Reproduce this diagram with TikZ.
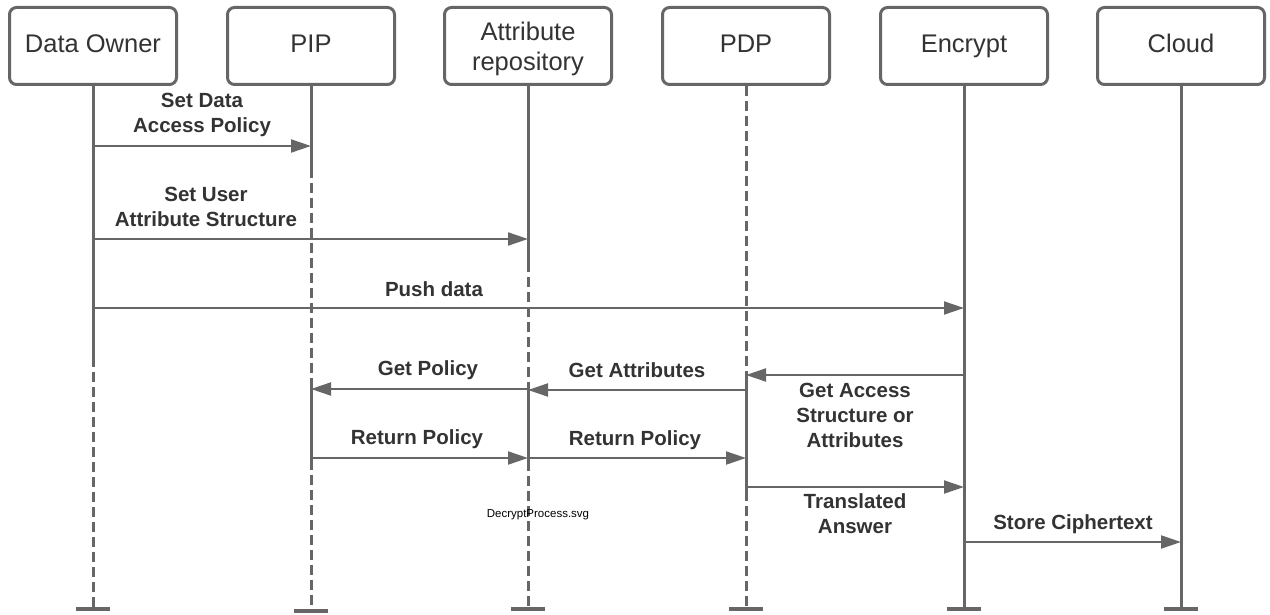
\documentclass[tikz,border=0pt]{standalone}
\usepackage{fontspec}
\setmainfont{Liberation Sans}
\usetikzlibrary{arrows.meta}
\definecolor{linegray}{HTML}{666666}
\definecolor{textgray}{HTML}{333333}

\begin{document}
\begin{tikzpicture}[x=1pt,y=-1pt,
  actor/.style={draw=linegray,line width=3pt,rounded corners=7pt,
    minimum width=167pt,minimum height=77pt,inner sep=0pt,fill=white,
    text=textgray,font=\fontsize{25.5}{30}\selectfont,align=center},
  oneline/.style={text height=18pt,text depth=5pt},
  life/.style={draw=linegray,line width=3pt},
  lifedash/.style={life,dash pattern=on 10pt off 5pt},
  msg/.style={draw=linegray,line width=2pt,-{Triangle[length=20pt,width=13pt]}},
  lbl/.style={text=textgray,font=\bfseries\fontsize{20.5}{25}\selectfont,align=center,inner sep=0pt},
  endbar/.style={draw=linegray,line width=4pt}
]
\useasboundingbox (0,0) rectangle (1270,615);

% participants
\node[actor,oneline] (owner) at (93,46) {Data Owner};
\node[actor,oneline] (pip)   at (311,46) {PIP};
\node[actor,text depth=-2pt] (repo) at (528,46) {Attribute\\repository};
\node[actor,oneline] (pdp)   at (746,46) {PDP};
\node[actor,oneline] (enc)   at (964,46) {Encrypt};
\node[actor,oneline] (cloud) at (1181,46) {Cloud};

% lifeline end points
\coordinate (owner-end) at (93,609);
\coordinate (pip-end)   at (311,611);
\coordinate (repo-end)  at (528,609);
\coordinate (pdp-end)   at (746,609);
\coordinate (enc-end)   at (964,609);
\coordinate (cloud-end) at (1181,609);

% Data Owner lifeline
\coordinate (owner-a) at (93,357);
\draw[life] (owner.south) -- (owner-a);
\draw[lifedash] (owner-a) -- (owner-end);

% PIP lifeline with activation
\coordinate (pip-a) at (311,168);
\coordinate (pip-b) at (311,388);
\coordinate (pip-c) at (311,460);
\draw[life] (pip.south) -- (pip-a);
\draw[lifedash] (pip-a) -- (pip-b);
\draw[life] (pip-b) -- (pip-c);
\draw[lifedash] (pip-c) -- (pip-end);

% Attribute repository lifeline with activation
\coordinate (repo-a) at (528,262);
\coordinate (repo-b) at (528,388);
\coordinate (repo-c) at (528,461);
\draw[life] (repo.south) -- (repo-a);
\draw[lifedash] (repo-a) -- (repo-b);
\draw[life] (repo-b) -- (repo-c);
\draw[lifedash] (repo-c) -- (repo-end);

% PDP lifeline with activation
\coordinate (pdp-a) at (746,375);
\coordinate (pdp-b) at (746,491);
\draw[lifedash] (pdp.south) -- (pdp-a);
\draw[life] (pdp-a) -- (pdp-b);
\draw[lifedash] (pdp-b) -- (pdp-end);

% Encrypt and Cloud lifelines
\draw[life] (enc.south) -- (enc-end);
\draw[life] (cloud.south) -- (cloud-end);

% lifeline terminators
\foreach \e in {owner-end,pip-end,repo-end,pdp-end,enc-end,cloud-end}
  \draw[endbar] ([xshift=-17pt]\e) -- ([xshift=17pt]\e);

% message end points
\coordinate (m1s) at (93,146);  \coordinate (m1e) at (311,146);
\coordinate (m2s) at (93,239);  \coordinate (m2e) at (528,239);
\coordinate (m3s) at (93,308);  \coordinate (m3e) at (964,308);
\coordinate (m4s) at (964,375); \coordinate (m4e) at (746,375);
\coordinate (m5s) at (746,390); \coordinate (m5e) at (528,390);
\coordinate (m6s) at (528,389); \coordinate (m6e) at (311,389);
\coordinate (m7s) at (311,458); \coordinate (m7e) at (528,458);
\coordinate (m8s) at (528,458); \coordinate (m8e) at (746,458);
\coordinate (m9s) at (746,487); \coordinate (m9e) at (964,487);
\coordinate (m10s) at (964,542); \coordinate (m10e) at (1181,542);

% messages
\draw[msg] (m1s) -- (m1e);
\draw[msg] (m2s) -- (m2e);
\draw[msg] (m3s) -- (m3e);
\draw[msg] (m4s) -- (m4e);
\draw[msg] (m5s) -- (m5e);
\draw[msg] (m6s) -- (m6e);
\draw[msg] (m7s) -- (m7e);
\draw[msg] (m8s) -- (m8e);
\draw[msg] (m9s) -- (m9e);
\draw[msg] (m10s) -- (m10e);

% message labels
\node[lbl] (l1) at (202,115) {Set Data\\Access Policy};
\node[lbl] (l2) at (206,207) {Set User\\Attribute Structure};
\node[lbl,anchor=base] (l3) at (434,296) {Push data};
\node[lbl] (l4) at (855,415) {Get Access\\Structure or\\Attributes};
\node[lbl,anchor=base] (l5) at (637,377) {Get Attributes};
\node[lbl,anchor=base] (l6) at (428,375) {Get Policy};
\node[lbl,anchor=base] (l7) at (417,444) {Return Policy};
\node[lbl,anchor=base] (l8) at (635,445) {Return Policy};
\node[lbl] (l9) at (855,514) {Translated\\Answer};
\node[lbl,anchor=base] (l10) at (1073,529) {Store Ciphertext};

% file caption
\node[text=black,font=\fontsize{11.5}{14}\selectfont,inner sep=0pt] (caption) at (538,515) {DecryptProcess.svg};
\end{tikzpicture}
\end{document}
